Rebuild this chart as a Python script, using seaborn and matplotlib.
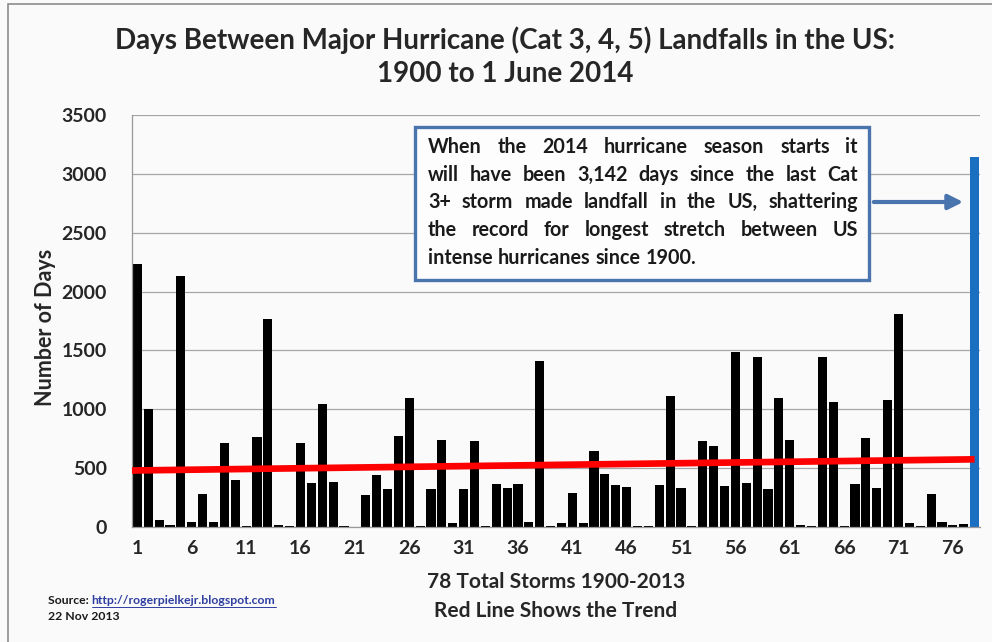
import numpy as np
import pandas as pd
import matplotlib
matplotlib.use("Agg")
import matplotlib.pyplot as plt
from matplotlib.patches import Rectangle, FancyArrowPatch
import seaborn as sns

# ---------------------------------------------------------
# Data
# ---------------------------------------------------------
storm_num = list(range(1, 79))
days_between = [
    2230, 1000, 62, 20, 2130, 40, 278, 40, 717, 397,
    5, 765, 1763, 20, 5, 717, 371, 1049, 383, 5,
    0, 269, 439, 326, 774, 1097, 5, 326, 742, 34,
    326, 728, 5, 366, 332, 366, 40, 1408, 5, 30,
    289, 34, 646, 453, 360, 340, 5, 5, 360, 1114,
    332, 5, 734, 691, 346, 1488, 371, 1440, 326, 1100,
    740, 20, 5, 1448, 1063, 5, 363, 760, 332, 1077,
    1811, 34, 5, 283, 45, 20, 25, 3142,
]
kind = ["past"] * 77 + ["2014"]
trend_storm = [1, 78]
trend_days = [480, 575]
xtick_storms = list(range(1, 77, 5))
ytick_days = list(range(0, 3501, 500))

title = "Days Between Major Hurricane (Cat 3, 4, 5) Landfalls in the US:\n1900 to 1 June 2014"
note_lines = [
    "When the 2014 hurricane season starts it",
    "will have been 3,142 days since the  last Cat",
    "3+ storm made landfall in the US, shattering",
    "the record for longest stretch between US",
    "intense hurricanes since 1900.",
]

df = pd.DataFrame({"storm": storm_num, "days": days_between, "kind": kind})

# ---------------------------------------------------------
# Figure
# ---------------------------------------------------------
sns.set_style("white")
plt.rcParams["font.family"] = ["Lato", "DejaVu Sans"]
plt.rcParams["font.weight"] = "bold"

bg = "#fafafa"
W, H = 992, 642
fig = plt.figure(figsize=(W / 100, H / 100), dpi=100, facecolor=bg)
ax = fig.add_axes([132 / W, 1 - 527 / H, (980 - 132) / W, (527 - 115) / H])
ax.set_facecolor(bg)

sns.barplot(data=df, x="storm", y="days", hue="kind",
            palette={"past": "black", "2014": "#1a6fc0"},
            dodge=False, width=0.84, saturation=1, legend=False, ax=ax,
            linewidth=0)

# trend line (positions are category index = storm - 1)
tx = np.array(trend_storm) - 1
ax.plot([tx[0] - 0.5, tx[1]], trend_days, color="#ff0000", lw=4.8,
        solid_capstyle="butt", zorder=5)

ax.set_xlim(-0.5, len(storm_num) - 0.5)
ax.set_ylim(0, 3500)
ax.set_yticks(ytick_days)
ax.set_yticklabels([str(v) for v in ytick_days], fontsize=14, fontweight="bold")
ax.set_xticks([s - 1 for s in xtick_storms])
ax.set_xticklabels([str(s) for s in xtick_storms], fontsize=14, fontweight="bold")
ax.set_xticks(np.arange(-0.5, len(storm_num), 1), minor=True)
ax.tick_params(axis="x", which="major", length=0, pad=9)
ax.tick_params(axis="x", which="minor", length=5, color="#999999", width=0.8)
ax.tick_params(axis="y", which="major", length=5, color="#999999", width=0.8, pad=13)

ax.yaxis.grid(True, color="#a6a6a6", lw=0.9)
ax.set_axisbelow(True)
for side in ["top", "right"]:
    ax.spines[side].set_visible(False)
for side in ["left", "bottom"]:
    ax.spines[side].set_color("#999999")
    ax.spines[side].set_linewidth(0.9)

ax.set_xlabel("78 Total Storms 1900-2013\nRed Line Shows the Trend",
              fontsize=15, fontweight="bold", labelpad=11, linespacing=1.55)
ax.set_ylabel("Number of Days", fontsize=15.5, fontweight="bold")
ax.yaxis.set_label_coords(-(132 - 56) / (980 - 132), (527 - 327) / (527 - 115))

fig.text(505 / W, 1 - 57 / H, title, ha="center", va="center",
         fontsize=20, fontweight="bold", linespacing=1.35)

# ---------------------------------------------------------
# Annotation box with justified text
# ---------------------------------------------------------
box_col = "#4a74ad"
fig.patches.append(Rectangle((415 / W, 1 - 280 / H), (869 - 415) / W, (280 - 127) / H,
                             transform=fig.transFigure, facecolor="#fdfdfd",
                             edgecolor=box_col, lw=2.4, zorder=3))
fig.patches.append(FancyArrowPatch((871 / W, 1 - 202 / H), (966 / W, 1 - 202 / H),
                                   transform=fig.transFigure, arrowstyle="-|>",
                                   mutation_scale=22, color=box_col, lw=3, zorder=3))

renderer = fig.canvas.get_renderer()
x0, x1 = 428, 858
for i, line in enumerate(note_lines):
    y = 1 - (147 + i * 27.7) / H
    words = line.split()
    texts = [fig.text(0, y, w, fontsize=14.2, fontweight="bold", color="#1a1a1a",
                      va="center", ha="left", zorder=4) for w in words]
    widths = [t.get_window_extent(renderer).width for t in texts]
    if i < len(note_lines) - 1:
        gap = (x1 - x0 - sum(widths)) / (len(words) - 1)
    else:
        gap = 5
    xp = x0
    for t, w in zip(texts, widths):
        t.set_x(xp / W)
        xp += w + gap

# ---------------------------------------------------------
# Source and outer frame
# ---------------------------------------------------------
src = fig.text(48 / W, 1 - 600 / H, "Source: ", fontsize=8.8, fontweight="bold",
               color="#1a1a1a", va="center")
sw = src.get_window_extent(renderer).width
url = fig.text((48 + sw) / W, 1 - 600 / H, "http://rogerpielkejr.blogspot.com",
               fontsize=8.8, fontweight="bold", color="#2f3fa0", va="center")
uw = url.get_window_extent(renderer).width
fig.lines.append(plt.Line2D([(48 + sw) / W, (48 + sw + uw) / W], [1 - 607 / H] * 2,
                            transform=fig.transFigure, color="#2f3fa0", lw=0.7))
fig.text(48 / W, 1 - 617 / H, "22 Nov 2013", fontsize=8.8, fontweight="bold",
         color="#1a1a1a", va="center")

fig.patches.append(Rectangle((8 / W, -0.05), 1.1, 1 - 4 / H + 0.05,
                             transform=fig.transFigure, fill=False,
                             edgecolor="#8c8c8c", lw=1.2))

fig.savefig("out.png", dpi=100, facecolor=bg)
